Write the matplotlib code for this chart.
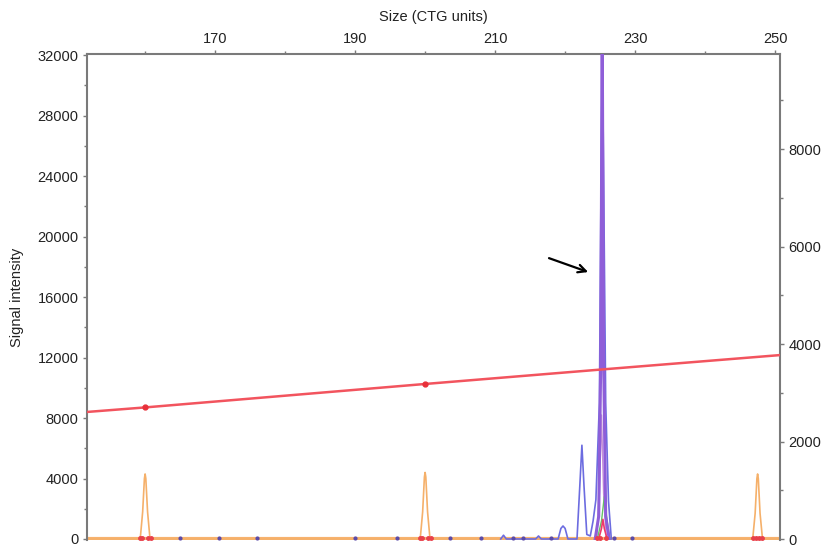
import matplotlib
matplotlib.use("Agg")
import matplotlib.pyplot as plt
from matplotlib.ticker import MultipleLocator

plt.rcParams['font.family'] = ['Liberation Sans', 'DejaVu Sans']

# ---- data (size in CTG units, signal intensity on left axis scale) ----
size_min, size_max = 151.7, 250.7
left_ylim = (-66, 32066)
right_ylim = (-20, 9949)

top_ticks = [170, 190, 210, 230, 250]
left_ticks = [0, 4000, 8000, 12000, 16000, 20000, 24000, 28000, 32000]
right_ticks = [0, 2000, 4000, 6000, 8000]

# size standard (orange)
orange_x = [151.7, 159.3, 159.65, 159.9, 160.0, 160.1, 160.35, 160.7,
            199.3, 199.65, 199.9, 200.0, 200.1, 200.35, 200.7,
            246.8, 247.15, 247.4, 247.5, 247.6, 247.85, 248.2, 250.7]
orange_y = [0, 0, 1800, 4000, 4300, 4000, 1800, 0,
            0, 1800, 4100, 4400, 4100, 1800, 0,
            0, 1700, 4000, 4300, 4000, 1700, 0, 0]

# sizing curve (red)
red_x = [151.7, 160.0, 200.0, 225.0, 250.7]
red_y = [8400, 8700, 10250, 11200, 12160]
red_mark_x = [160.0, 200.0]
red_mark_y = [8700, 10250]

# blue trace
blue_x = [210.8, 211.2, 211.6, 215.8, 216.2, 216.6, 219.0, 219.4, 219.7,
          220.0, 220.4, 221.7, 222.1, 222.4, 222.7, 223.1, 223.6, 224.0, 224.4,
          224.9, 225.3, 225.8, 226.2, 226.6]
blue_y = [0, 250, 0, 0, 200, 0, 0, 700, 860,
          700, 0, 0, 3500, 6200, 3500, 300, 200, 1200, 2600,
          9000, 34000, 9000, 2500, 0]

# purple trace (main allele)
purple_x = [224.3, 224.8, 225.1, 225.3, 225.5, 225.8, 226.3]
purple_y = [0, 1500, 12000, 34000, 12000, 1500, 0]

# violet/pink thin trace
violet_x = [224.5, 224.9, 225.2, 225.5, 225.9]
violet_y = [0, 3000, 8200, 3000, 0]

# green trace
green_x = [224.6, 225.2, 225.6, 226.0, 226.4]
green_y = [0, 1200, 2800, 1200, 0]

# red trace
redpk_x = [224.8, 225.2, 225.4, 225.6, 226.0]
redpk_y = [0, 700, 1300, 700, 0]

# baseline dots
dot_x = [165.0, 170.5, 176.0, 190.0, 196.0, 203.5, 208.0, 212.5, 214.0,
         218.0, 227.0, 229.5]
dot_y = [60] * len(dot_x)
red_dot_x = [159.2, 159.6, 160.4, 160.8, 199.2, 199.6, 200.4, 200.8,
             224.6, 225.0, 225.8, 246.9, 247.3, 247.7, 248.1]
red_dot_y = [80] * len(red_dot_x)

# arrow (tail -> head) in data units
arrow_tail = (217.7, 18570)
arrow_head = (223.3, 17650)

# ---- figure ----
fig = plt.figure(figsize=(8.24, 5.49), dpi=100)
ax = fig.add_axes([0.1056, 0.0164, 0.8410, 0.8852])
spine_c = '#7a7a7a'
text_c = '#222222'

ax.axhline(0, color='#f7b26e', lw=3.0, zorder=2)
ax.plot(orange_x, orange_y, color='#f5b06a', lw=1.2, zorder=2)
ax.plot(blue_x, blue_y, color='#6c6ce0', lw=1.2, zorder=3)
ax.plot(violet_x, violet_y, color='#c58fd8', lw=1.0, zorder=3)
ax.plot(green_x, green_y, color='#66c266', lw=1.0, zorder=3)
ax.plot(purple_x, purple_y, color='#8f5ed8', lw=2.2, zorder=4)
ax.plot(redpk_x, redpk_y, color='#ee3a6a', lw=1.2, zorder=5)
ax.plot(red_x, red_y, color='#f2545e', lw=1.8, zorder=5)
ax.plot(red_mark_x, red_mark_y, linestyle='none', marker='o', ms=3.5,
        color='#e8303a', zorder=6)
ax.plot(dot_x, dot_y, linestyle='none', marker='o', ms=2, color='#5a4aa8', zorder=6)
ax.plot(red_dot_x, red_dot_y, linestyle='none', marker='o', ms=2.5,
        color='#e8404a', zorder=6)

ax.annotate('', xy=arrow_head, xytext=arrow_tail,
            arrowprops=dict(arrowstyle='->', color='black', lw=1.6,
                            mutation_scale=14, shrinkA=0, shrinkB=0))

ax.set_xlim(size_min, size_max)
ax.set_ylim(*left_ylim)
ax.xaxis.tick_top()
ax.xaxis.set_label_position('top')
ax.set_xticks(top_ticks)
ax.xaxis.set_minor_locator(MultipleLocator(10))
ax.set_yticks(left_ticks)
ax.yaxis.set_minor_locator(MultipleLocator(2000))
ax.set_xlabel('Size (CTG units)', fontsize=10.5, color=text_c, labelpad=8)
ax.set_ylabel('Signal intensity', fontsize=10.5, color=text_c, labelpad=10)

ax.tick_params(axis='both', which='both', colors=spine_c, labelcolor=text_c,
               labelsize=10.5, direction='out')
ax.tick_params(axis='both', which='major', length=3, width=1.0, pad=3)
ax.tick_params(axis='both', which='minor', length=2, width=1.0)

for s in ['left', 'right', 'top']:
    ax.spines[s].set_color(spine_c)
    ax.spines[s].set_linewidth(1.5)
ax.spines['bottom'].set_visible(False)

ax2 = ax.twinx()
ax2.set_ylim(*right_ylim)
ax2.set_yticks(right_ticks)
ax2.yaxis.set_minor_locator(MultipleLocator(1000))
ax2.tick_params(axis='y', which='both', colors=spine_c, labelcolor=text_c,
                labelsize=10.5, direction='out')
ax2.tick_params(axis='y', which='major', length=3, width=1.0, pad=3)
ax2.tick_params(axis='y', which='minor', length=2, width=1.0)
for s in ['left', 'right', 'top', 'bottom']:
    ax2.spines[s].set_visible(False)

fig.savefig('out.png', dpi=100)
